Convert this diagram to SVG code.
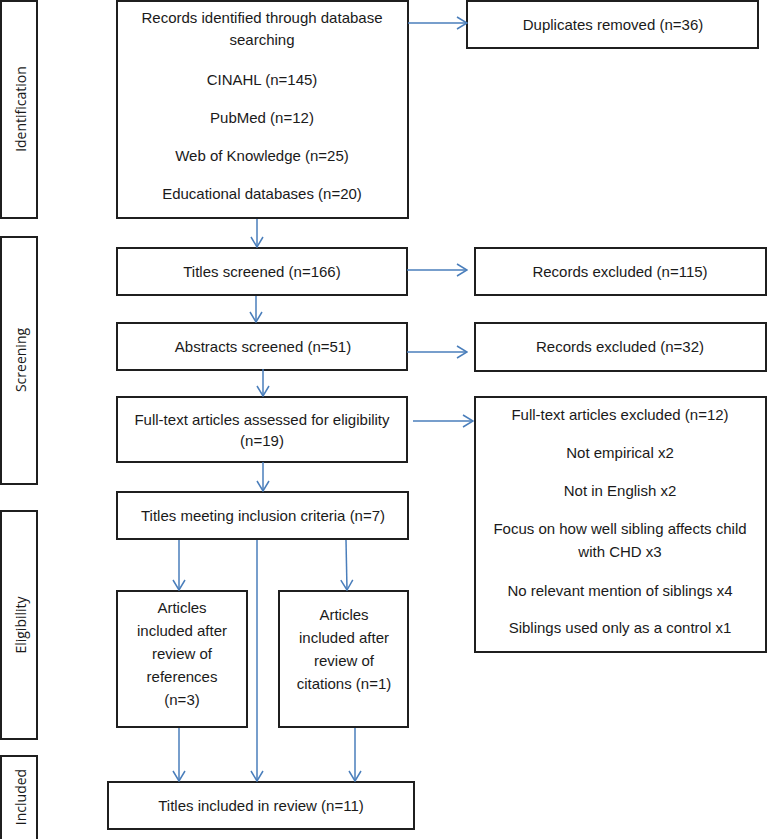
<svg xmlns="http://www.w3.org/2000/svg" width="767" height="839" viewBox="0 0 767 839">
<style>
.box{fill:#fff;stroke:#1f1f1f;stroke-width:2}
.t{font-family:"Liberation Sans",Arial,sans-serif;font-size:15px;fill:#1a1a1a;text-anchor:middle}
.v{font-family:"Open Sans","Liberation Sans",sans-serif;font-size:14px;fill:#1a1a1a;text-anchor:middle;dominant-baseline:central}
.c{stroke:#4a7ebb;stroke-width:1.5;fill:none}
</style>
<defs>
<marker id="ah" viewBox="0 0 12 14" refX="11" refY="7" markerWidth="12" markerHeight="14" markerUnits="userSpaceOnUse" orient="auto">
<path d="M1,1 L11,7 L1,13" fill="none" stroke="#4a7ebb" stroke-width="1.5"/>
</marker>
</defs>
<rect width="767" height="839" fill="#fff"/>

<g id="phase-identification"><rect class="box" x="1" y="1" width="36" height="217"/><text class="v" transform="translate(20,109) rotate(-90)">Identification</text></g>
<g id="phase-screening"><rect class="box" x="1" y="237" width="36" height="247"/><text class="v" transform="translate(20,360) rotate(-90)">Screening</text></g>
<g id="phase-eligibility"><rect class="box" x="1" y="511" width="36" height="228"/><text class="v" transform="translate(20,625) rotate(-90)">Eligibility</text></g>
<g id="phase-included"><rect class="box" x="1" y="756" width="36" height="90"/><text class="v" transform="translate(20,797) rotate(-90)">Included</text></g>

<g id="records"><rect class="box" x="117" y="1" width="291" height="217"/>
<text class="t" x="262" y="23">Records identified through database</text>
<text class="t" x="262" y="45">searching</text>
<text class="t" x="262" y="85">CINAHL (n=145)</text>
<text class="t" x="262" y="123">PubMed (n=12)</text>
<text class="t" x="262" y="161">Web of Knowledge (n=25)</text>
<text class="t" x="262" y="199">Educational databases (n=20)</text></g>

<g id="duplicates"><rect class="box" x="467" y="1" width="291" height="47"/><text class="t" x="613" y="30">Duplicates removed (n=36)</text></g>

<g id="titles-screened"><rect class="box" x="117" y="248" width="290" height="47"/><text class="t" x="262" y="277">Titles screened (n=166)</text></g>
<g id="excluded-115"><rect class="box" x="475" y="248" width="291" height="47"/><text class="t" x="620" y="277">Records excluded (n=115)</text></g>

<g id="abstracts"><rect class="box" x="117" y="323" width="290" height="47"/><text class="t" x="263" y="352">Abstracts screened (n=51)</text></g>
<g id="excluded-32"><rect class="box" x="475" y="323" width="291" height="48"/><text class="t" x="620" y="352">Records excluded (n=32)</text></g>

<g id="fulltext"><rect class="box" x="117" y="397" width="290" height="65"/>
<text class="t" x="262" y="425">Full-text articles assessed for eligibility</text>
<text class="t" x="262" y="446">(n=19)</text></g>

<g id="fulltext-excluded"><rect class="box" x="475" y="397" width="291" height="255"/>
<text class="t" x="620" y="420">Full-text articles excluded (n=12)</text>
<text class="t" x="620" y="458">Not empirical x2</text>
<text class="t" x="620" y="496">Not in English x2</text>
<text class="t" x="620" y="534">Focus on how well sibling affects child</text>
<text class="t" x="620" y="557">with CHD x3</text>
<text class="t" x="620" y="596">No relevant mention of siblings x4</text>
<text class="t" x="620" y="633">Siblings used only as a control x1</text></g>

<g id="titles-meeting"><rect class="box" x="117" y="492" width="291" height="47"/><text class="t" x="263" y="521">Titles meeting inclusion criteria (n=7)</text></g>

<g id="refs"><rect class="box" x="117" y="591" width="130" height="136"/>
<text class="t" x="182" y="613">Articles</text>
<text class="t" x="182" y="636">included after</text>
<text class="t" x="182" y="659">review of</text>
<text class="t" x="182" y="682">references</text>
<text class="t" x="182" y="705">(n=3)</text></g>

<g id="cites"><rect class="box" x="279" y="591" width="129" height="136"/>
<text class="t" x="344" y="620">Articles</text>
<text class="t" x="344" y="643">included after</text>
<text class="t" x="344" y="666">review of</text>
<text class="t" x="344" y="689">citations (n=1)</text></g>

<g id="included"><rect class="box" x="108" y="782" width="306" height="47"/><text class="t" x="261" y="811">Titles included in review (n=11)</text></g>

<g id="connectors">
<line class="c" x1="408" y1="23" x2="467" y2="23" marker-end="url(#ah)"/>
<line class="c" x1="257" y1="219" x2="257" y2="247" marker-end="url(#ah)"/>
<line class="c" x1="407" y1="270" x2="467" y2="270" marker-end="url(#ah)"/>
<line class="c" x1="256" y1="296" x2="256" y2="322" marker-end="url(#ah)"/>
<line class="c" x1="407" y1="352" x2="467" y2="352" marker-end="url(#ah)"/>
<line class="c" x1="263" y1="369" x2="263" y2="396" marker-end="url(#ah)"/>
<line class="c" x1="413" y1="421" x2="473" y2="421" marker-end="url(#ah)"/>
<line class="c" x1="263" y1="462" x2="263" y2="491" marker-end="url(#ah)"/>
<line class="c" x1="179" y1="540" x2="179" y2="590" marker-end="url(#ah)"/>
<line class="c" x1="346" y1="540" x2="347" y2="590" marker-end="url(#ah)"/>
<line class="c" x1="257" y1="540" x2="257" y2="781" marker-end="url(#ah)"/>
<line class="c" x1="179" y1="728" x2="179" y2="781" marker-end="url(#ah)"/>
<line class="c" x1="355" y1="728" x2="355" y2="781" marker-end="url(#ah)"/>
</g>
</svg>
